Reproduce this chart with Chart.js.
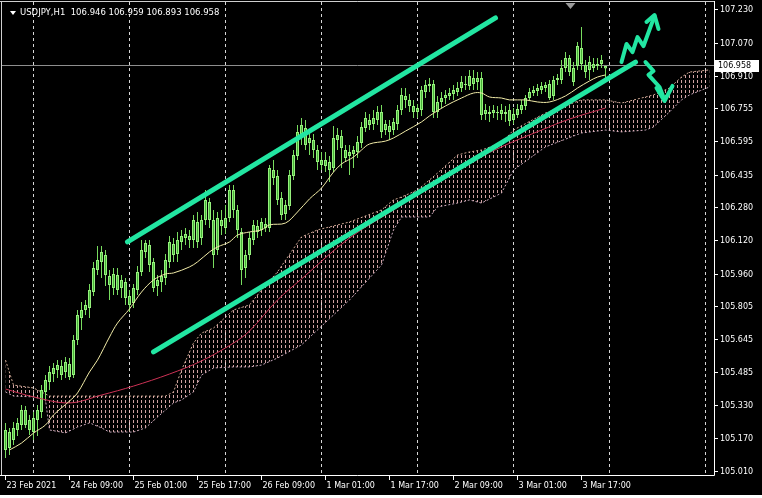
<!DOCTYPE html>
<html><head><meta charset="utf-8">
<script src="https://cdn.jsdelivr.net/npm/chart.js@4.4.1/dist/chart.umd.min.js"></script>
<style>html,body{margin:0;padding:0;background:#000;overflow:hidden}</style>
</head><body><canvas id="c" width="762" height="498"></canvas>
<script>
// ---------------- DATA ----------------
const symbol = 'USDJPY,H1';
const lastOHLC = ['106.946', '106.959', '106.893', '106.958'];
const bid = 106.958;

// hourly candles, bar 0 = 23 Feb 2021 17:00 ... bar 150 = 3 Mar 23:00
const open = [
105.112,105.198,105.160,105.208,105.232,105.304,105.256,105.198,105.256,105.294,
105.391,105.439,105.477,105.496,105.516,105.487,105.525,105.472,105.641,105.746,
105.785,105.794,105.871,105.977,106.016,106.049,105.948,105.891,105.953,105.891,
105.919,105.852,105.818,105.881,105.968,106.064,106.097,106.016,105.900,105.919,
105.939,106.016,106.102,106.054,106.112,106.131,106.141,106.121,106.208,106.131,
106.218,106.304,106.218,106.073,106.218,106.179,106.227,106.362,106.266,106.160,
105.987,106.049,106.121,106.189,106.170,106.198,106.179,106.458,106.429,106.323,
106.246,106.285,106.429,106.525,106.631,106.660,106.588,106.602,106.554,106.506,
106.477,106.496,106.468,106.602,106.621,106.554,106.525,106.535,106.545,106.588,
106.660,106.698,106.679,106.698,106.737,106.650,106.670,106.650,106.679,106.746,
106.814,106.795,106.766,106.737,106.746,106.833,106.862,106.871,106.737,106.785,
106.804,106.814,106.823,106.833,106.852,106.871,106.862,106.900,106.881,106.900,
106.727,106.737,106.732,106.737,106.727,106.737,106.746,106.698,106.722,106.746,
106.766,106.804,106.828,106.838,106.843,106.852,106.871,106.814,106.891,106.891,
106.948,106.996,106.948,106.958,106.968,106.963,106.939,106.968,106.958,106.968,
106.946];
const high = [
105.242,105.218,105.246,105.266,105.328,105.323,105.280,105.294,105.328,105.424,
105.472,105.516,105.530,105.544,105.544,105.559,105.554,105.665,105.785,105.823,
105.833,105.910,106.016,106.093,106.093,106.073,105.977,105.987,105.987,105.953,
105.939,105.881,105.910,105.996,106.121,106.121,106.121,106.035,105.953,105.977,
106.054,106.141,106.131,106.160,106.170,106.179,106.170,106.242,106.256,106.242,
106.362,106.323,106.266,106.256,106.266,106.290,106.386,106.386,106.290,106.179,
106.073,106.160,106.218,106.218,106.227,106.227,106.482,106.506,106.458,106.352,
106.314,106.458,106.554,106.674,106.708,106.698,106.641,106.631,106.578,106.545,
106.545,106.525,106.670,106.660,106.650,106.578,106.578,106.573,106.621,106.689,
106.737,106.727,106.746,106.766,106.771,106.698,106.698,106.708,106.771,106.852,
106.852,106.823,106.795,106.775,106.862,106.891,106.900,106.891,106.814,106.833,
106.843,106.852,106.867,106.881,106.910,106.910,106.939,106.939,106.929,106.929,
106.775,106.766,106.771,106.766,106.775,106.766,106.775,106.756,106.775,106.795,
106.819,106.852,106.862,106.871,106.881,106.881,106.891,106.910,106.920,106.987,
107.025,107.011,106.977,107.073,107.146,106.987,107.006,106.996,106.996,107.011,
106.959];
const low = [
105.073,105.088,105.136,105.179,105.208,105.218,105.184,105.160,105.179,105.266,
105.352,105.400,105.439,105.458,105.448,105.458,105.448,105.458,105.617,105.689,
105.761,105.746,105.852,105.953,105.939,105.900,105.833,105.857,105.857,105.842,
105.809,105.775,105.794,105.857,105.948,106.035,105.968,105.871,105.852,105.871,
105.905,105.987,106.016,106.016,106.073,106.097,106.083,106.083,106.083,106.097,
106.194,106.179,105.987,106.049,106.145,106.150,106.208,106.227,106.131,105.905,
105.939,106.025,106.097,106.131,106.141,106.160,106.160,106.386,106.290,106.218,
106.218,106.266,106.410,106.506,106.578,106.554,106.530,106.516,106.458,106.458,
106.448,106.400,106.448,106.554,106.468,106.496,106.434,106.468,106.516,106.564,
106.641,106.650,106.650,106.674,106.612,106.626,106.602,106.626,106.650,106.722,
106.756,106.737,106.708,106.708,106.718,106.804,106.833,106.708,106.708,106.756,
106.775,106.795,106.795,106.814,106.833,106.843,106.843,106.843,106.843,106.698,
106.698,106.689,106.708,106.698,106.698,106.689,106.670,106.679,106.708,106.727,
106.746,106.795,106.814,106.814,106.823,106.833,106.795,106.795,106.867,106.871,
106.929,106.910,106.862,106.939,106.939,106.900,106.891,106.929,106.939,106.948,
106.893];
const close = [
105.208,105.121,105.218,105.242,105.304,105.232,105.208,105.266,105.304,105.400,
105.448,105.487,105.506,105.520,105.472,105.535,105.463,105.641,105.761,105.785,
105.809,105.881,105.987,106.025,106.064,105.953,105.905,105.958,105.881,105.929,
105.842,105.809,105.891,105.968,106.073,106.107,106.001,105.891,105.929,105.948,
106.025,106.112,106.049,106.121,106.141,106.150,106.121,106.218,106.112,106.218,
106.314,106.218,106.049,106.227,106.189,106.227,106.362,106.266,106.170,105.977,
106.049,106.131,106.194,106.160,106.208,106.179,106.468,106.420,106.314,106.242,
106.290,106.434,106.530,106.641,106.674,106.578,106.612,106.554,106.496,106.482,
106.506,106.458,106.612,106.626,106.564,106.516,106.545,106.554,106.593,106.665,
106.708,106.674,106.708,106.737,106.641,106.679,106.641,106.689,106.746,106.819,
106.795,106.766,106.737,106.756,106.843,106.867,106.871,106.737,106.785,106.804,
106.819,106.828,106.843,106.852,106.881,106.867,106.910,106.871,106.900,106.722,
106.746,106.727,106.746,106.732,106.746,106.727,106.694,106.727,106.751,106.771,
106.804,106.833,106.843,106.852,106.862,106.867,106.804,106.891,106.900,106.948,
106.996,106.929,106.881,107.054,107.045,106.929,106.977,106.948,106.968,106.987,
106.958];

// moving average (pale yellow) read at bar indices
const yellowIdx = [1,4,7,10,12,16,18,21,23,26,28,31,34,37,40,42,46,48,51,53,56,58,61,64,66,70,73,76,79,82,84,87,89,91,95,97,100,104,106,110,114,117,119,121,124,126,130,133,136,140,143,146,148,150];
const yellowMA = [105.112,105.145,105.193,105.232,105.280,105.347,105.386,105.487,105.544,105.655,105.722,105.790,105.871,105.929,105.958,105.963,105.992,106.016,106.064,106.088,106.112,106.145,106.160,106.170,106.194,106.203,106.256,106.319,106.371,106.448,106.487,106.520,106.554,106.583,106.597,106.612,106.645,106.689,106.718,106.766,106.804,106.828,106.828,106.809,106.804,106.795,106.795,106.785,106.785,106.814,106.852,106.886,106.905,106.915];

// slow moving average (crimson)
const redIdx = [0,7,16,24,32,41,49,57,61,68,74,86,99,111,124,134,141,150];
const redMA = [105.405,105.367,105.338,105.376,105.419,105.477,105.540,105.626,105.684,105.833,105.934,106.131,106.290,106.444,106.569,106.650,106.703,106.756];

// Ichimoku cloud edges (extends 26 bars ahead)
const cloudIdx = [0,2,7,10,11,15,18,21,24,26,32,35,38,40,42,44,47,49,52,57,61,64,68,74,78,86,94,97,99,103,106,108,113,116,119,124,127,135,144,150,154,160,162,166,169,171,176];
const spanA = [105.544,105.424,105.410,105.381,105.371,105.371,105.371,105.371,105.371,105.371,105.371,105.371,105.371,105.371,105.391,105.496,105.626,105.674,105.698,105.785,105.809,105.881,105.968,106.136,106.170,106.208,106.266,106.314,106.328,106.362,106.410,106.443,106.530,106.545,106.554,106.588,106.650,106.732,106.795,106.795,106.780,106.809,106.819,106.852,106.905,106.929,106.939];
const spanB = [105.391,105.371,105.367,105.352,105.208,105.194,105.222,105.242,105.218,105.198,105.198,105.218,105.270,105.304,105.338,105.352,105.391,105.472,105.506,105.511,105.511,105.520,105.554,105.617,105.689,105.833,106.001,106.170,106.232,106.232,106.232,106.280,106.299,106.314,106.299,106.347,106.458,106.569,106.636,106.650,106.641,106.650,106.665,106.737,106.795,106.819,106.857];

// drawn channel
const upperChannelIdx = [30.5, 122.5];
const upperChannel = [106.112, 107.189];
const lowerChannelIdx = [37, 157.5];
const lowerChannel = [105.583, 106.977];

// hand-drawn scenario arrows
const upPathIdx = [154, 155.25, 156.75, 158, 159.5, 162.25];
const upPath = [106.977, 107.064, 107.025, 107.097, 107.054, 107.198];
const upHeadIdx = [160.25, 162.25, 163.25];
const upHead = [107.170, 107.203, 107.136];
const downPathIdx = [160, 162, 160.75, 163.5, 164.75];
const downPath = [106.977, 106.934, 106.915, 106.857, 106.795];
const downHeadIdx = [162.75, 164.75, 166.75];
const downHead = [106.852, 106.790, 106.862];

// axes
const priceTicks = [107.230,107.070,106.910,106.755,106.595,106.435,106.280,106.120,105.960,105.805,105.645,105.485,105.330,105.170,105.010];
const timeTickIdx = [0,16,32,48,64,80,96,112,128,144];
const timeTickLabels = ['23 Feb 2021','24 Feb 09:00','25 Feb 01:00','25 Feb 17:00','26 Feb 09:00','1 Mar 01:00','1 Mar 17:00','2 Mar 09:00','3 Mar 01:00','3 Mar 17:00'];
const dayGridIdx = [7,31,55,79,103,127,151,175];
const shiftMarkerIdx = 141.25;

// ---------------- CHART ----------------
const canvas = document.getElementById('c');
const ctx = canvas.getContext('2d');
const pts = (xs, ys) => xs.map((v, i) => ({x: v, y: ys[i]}));

const pc = document.createElement('canvas');
pc.width = 4; pc.height = 5;
const pctx = pc.getContext('2d');
pctx.fillStyle = 'rgba(245,190,190,0.85)';
pctx.fillRect(1, 0, 1, 3);
const cloudPattern = ctx.createPattern(pc, 'repeat');

const FONT = '8px "DejaVu Sans", sans-serif';
const HEAD_FONT = '8.5px "DejaVu Sans", sans-serif';
const TEAL = '#22e6a2';

const mt4 = {
  id: 'mt4',
  beforeDraw(chart) {
    const {ctx, chartArea: a, scales: {x, y}} = chart;
    ctx.save();
    ctx.fillStyle = '#000';
    ctx.fillRect(0, 0, chart.width, chart.height);
    ctx.strokeStyle = '#d6d6d6';
    ctx.lineWidth = 1;
    ctx.setLineDash([3, 3]);
    dayGridIdx.forEach(v => {
      const px = Math.round(x.getPixelForValue(v) - 0.5) + 0.5;
      ctx.beginPath(); ctx.moveTo(px, a.top); ctx.lineTo(px, a.bottom); ctx.stroke();
    });
    ctx.setLineDash([]);
    const by = Math.round(y.getPixelForValue(bid) - 0.5) + 0.5;
    ctx.strokeStyle = '#8e8e8e';
    ctx.beginPath(); ctx.moveTo(a.left - 2, by); ctx.lineTo(a.right, by); ctx.stroke();
    ctx.restore();
  },
  afterDraw(chart) {
    const {ctx, chartArea: a, scales: {x, y}} = chart;
    ctx.save();
    ctx.strokeStyle = '#cfcfcf';
    ctx.lineWidth = 1;
    ctx.beginPath();
    ctx.moveTo(0, a.top - 0.5); ctx.lineTo(a.right + 0.5, a.top - 0.5);
    ctx.moveTo(a.left - 1.5, a.top); ctx.lineTo(a.left - 1.5, a.bottom + 0.5);
    ctx.stroke();
    ctx.strokeStyle = '#ffffff';
    ctx.beginPath();
    ctx.moveTo(a.right + 0.5, a.top - 1); ctx.lineTo(a.right + 0.5, a.bottom + 0.5);
    ctx.moveTo(0, a.bottom + 0.5); ctx.lineTo(a.right + 0.5, a.bottom + 0.5);
    ctx.stroke();
    ctx.font = FONT;
    ctx.fillStyle = '#ffffff';
    ctx.textBaseline = 'middle';
    ctx.textAlign = 'left';
    priceTicks.forEach(v => {
      const py = Math.round(y.getPixelForValue(v)) + 0.5;
      ctx.beginPath(); ctx.moveTo(a.right + 1, py); ctx.lineTo(a.right + 4, py); ctx.stroke();
      ctx.fillText(v.toFixed(3), a.right + 6, py);
    });
    const by = Math.round(y.getPixelForValue(bid));
    ctx.fillStyle = '#ffffff';
    ctx.fillRect(a.right + 1, by - 6, 44, 12);
    ctx.fillStyle = '#000000';
    ctx.fillText(bid.toFixed(3), a.right + 4, by);
    ctx.fillStyle = '#ffffff';
    timeTickIdx.forEach((v, i) => {
      const px = Math.round(x.getPixelForValue(v) - 0.5) + 0.5;
      ctx.beginPath(); ctx.moveTo(px, a.bottom + 1); ctx.lineTo(px, a.bottom + 5); ctx.stroke();
      ctx.fillText(timeTickLabels[i], px + 1, a.bottom + 11);
    });
    ctx.beginPath();
    ctx.moveTo(10, 11); ctx.lineTo(16, 11); ctx.lineTo(13, 15); ctx.closePath();
    ctx.fill();
    ctx.font = HEAD_FONT;
    ctx.fillText(symbol + '  ' + lastOHLC.join(' '), 20, 13);
    const sx = x.getPixelForValue(shiftMarkerIdx);
    ctx.fillStyle = '#9a9a9a';
    ctx.beginPath();
    ctx.moveTo(sx - 5, a.top + 1); ctx.lineTo(sx + 5, a.top + 1); ctx.lineTo(sx, a.top + 7); ctx.closePath();
    ctx.fill();
    ctx.fillStyle = '#ffffff';
    ctx.fillRect(0, chart.height - 3, chart.width, 3);
    ctx.restore();
  }
};

const thick = (data, order) => ({
  type: 'line', data, borderColor: TEAL, borderWidth: 5, pointRadius: 0,
  borderCapStyle: 'round', borderJoinStyle: 'round', fill: false, order, tension: 0
});
const arrowLine = (data, order) => ({
  type: 'line', data, borderColor: TEAL, borderWidth: 4, pointRadius: 0,
  borderCapStyle: 'round', borderJoinStyle: 'round', fill: false, order, tension: 0
});

new Chart(ctx, {
  type: 'bar',
  data: {
    datasets: [
      { type: 'line', data: pts(cloudIdx, spanA), borderColor: 'rgba(240,195,170,0.85)', borderWidth: 1,
        borderDash: [2, 2], pointRadius: 0, fill: '+1', backgroundColor: cloudPattern, order: 10, tension: 0 },
      { type: 'line', data: pts(cloudIdx, spanB), borderColor: 'rgba(230,195,220,0.85)', borderWidth: 1,
        borderDash: [2, 2], pointRadius: 0, fill: false, order: 11, tension: 0 },
      { type: 'bar', data: open.map((o, i) => ({x: i, y: [low[i], high[i]]})), backgroundColor: 'rgb(120,220,95)',
        barThickness: 1, grouped: false, order: 6, inflateAmount: 0 },
      { type: 'bar', data: open.map((o, i) => ({x: i, y: [o, close[i]]})), backgroundColor: 'rgb(70,180,55)',
        borderColor: 'rgb(150,240,125)', borderWidth: 1, borderSkipped: false, barThickness: 3,
        minBarLength: 1, grouped: false, order: 5, inflateAmount: 0 },
      { type: 'line', data: pts(redIdx, redMA), borderColor: 'rgb(205,50,85)', borderWidth: 1, pointRadius: 0,
        fill: false, order: 4, tension: 0.35 },
      { type: 'line', data: pts(yellowIdx, yellowMA), borderColor: '#f2eca8', borderWidth: 1, pointRadius: 0,
        fill: false, order: 3, tension: 0.35 },
      thick(pts(upperChannelIdx, upperChannel), 2),
      thick(pts(lowerChannelIdx, lowerChannel), 2),
      arrowLine(pts(upPathIdx, upPath), 1),
      arrowLine(pts(upHeadIdx, upHead), 1),
      arrowLine(pts(downPathIdx, downPath), 1),
      arrowLine(pts(downHeadIdx, downHead), 1)
    ]
  },
  options: {
    responsive: false,
    animation: false,
    devicePixelRatio: 1,
    events: [],
    layout: { padding: { left: 3, right: 48, top: 2, bottom: 23 } },
    scales: {
      x: { type: 'linear', min: -0.625, max: 177.125, offset: false, display: false },
      y: { type: 'linear', min: 104.9915, max: 107.2657, display: false }
    },
    plugins: { legend: { display: false }, tooltip: { enabled: false } }
  },
  plugins: [mt4]
});
</script>
</body></html>
